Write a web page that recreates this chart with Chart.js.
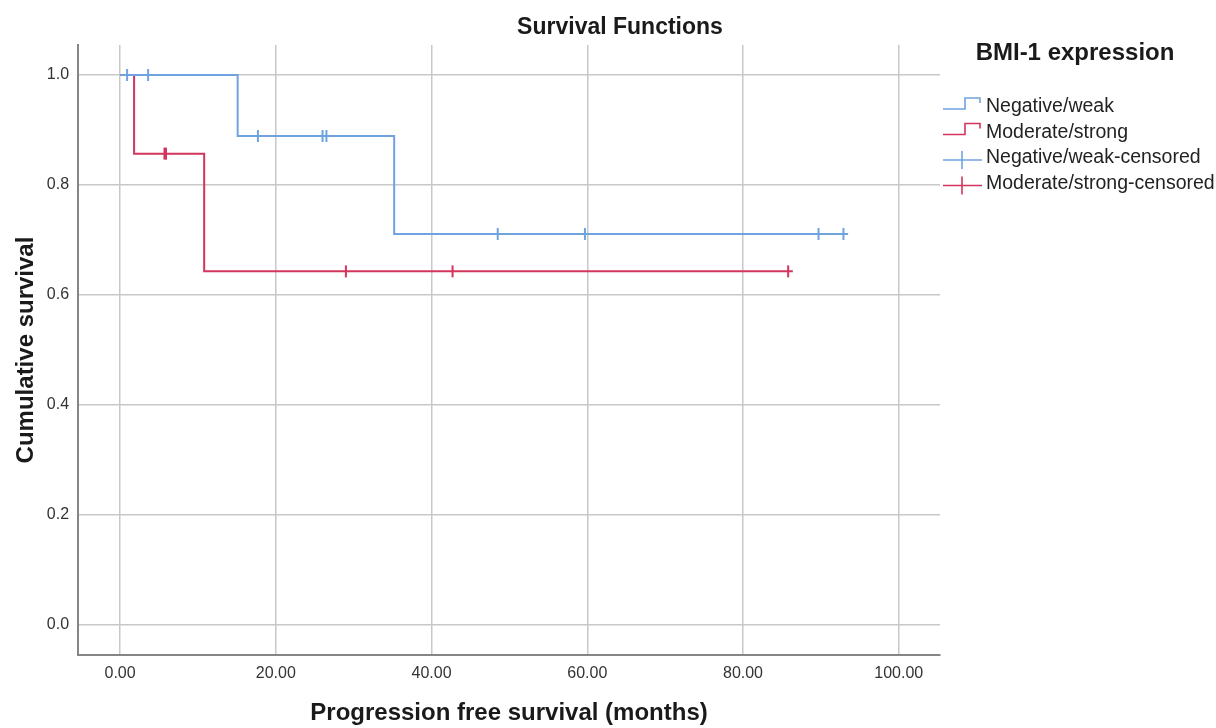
<!DOCTYPE html>
<html>
<head>
<meta charset="utf-8">
<title>Survival Functions</title>
<script src="https://cdn.jsdelivr.net/npm/chart.js@4/dist/chart.umd.min.js"></script>
<style>
  html, body { margin: 0; padding: 0; background: #fff; }
  #wrap { width: 1216px; height: 728px; position: relative; }
</style>
</head>
<body>
<div id="wrap"><canvas id="chart"></canvas></div>
<script>
    // Kaplan-Meier steps
    const negTimes = [0, 15.1, 35.2, 93.5];
    const negSurv = [1.0, 0.889, 0.711, 0.711];
    const modTimes = [0, 1.8, 10.8, 86.4];
    const modSurv = [1.0, 0.857, 0.643, 0.643];

    // Censored cases
    const negCensTimes = [0.9, 3.6, 17.7, 26.0, 26.5, 48.5, 59.7, 89.7, 92.9];
    const negCensSurv = [1.0, 1.0, 0.889, 0.889, 0.889, 0.711, 0.711, 0.711, 0.711];
    const modCensTimes = [5.7, 5.9, 29.0, 42.7, 85.8];
    const modCensSurv = [0.857, 0.857, 0.643, 0.643, 0.643];

    const xTicks = [0, 20, 40, 60, 80, 100];
    const yTicks = [0, 0.2, 0.4, 0.6, 0.8, 1.0];
    const groupNames = ['Negative/weak', 'Moderate/strong'];

    const blue = '#6fa3e0';
    const red = '#d3345d';

    function toPoints(xs, ys) {
      return xs.map((x, i) => ({ x: x, y: ys[i] }));
    }

    // Draws chart title and the SPSS style legend on the right
    const sideLegend = {
      id: 'sideLegend',
      afterDraw(chart) {
        const ctx = chart.ctx;
        ctx.save();
        ctx.fillStyle = '#1a1a1a';
        ctx.textAlign = 'center';
        ctx.textBaseline = 'middle';
        ctx.font = 'bold 23px "Liberation Sans", Arial, sans-serif';
        ctx.fillText('Survival Functions', 620, 28);
        ctx.font = 'bold 24px "Liberation Sans", Arial, sans-serif';
        ctx.fillText('BMI-1 expression', 1075, 53);

        ctx.textAlign = 'left';
        ctx.font = '19.5px "Liberation Sans", Arial, sans-serif';
        ctx.lineWidth = 1.6;
        chart.data.datasets.forEach((ds, i) => {
          const c = 107 + i * 25.5;
          ctx.strokeStyle = ds.borderColor;
          ctx.beginPath();
          if (ds.showLine) {
            ctx.moveTo(943, c + 2);
            ctx.lineTo(965, c + 2);
            ctx.lineTo(965, c - 9);
            ctx.lineTo(980, c - 9);
            ctx.lineTo(980, c - 4);
          } else {
            ctx.moveTo(943, c + 2);
            ctx.lineTo(982, c + 2);
            ctx.moveTo(962, c - 7);
            ctx.lineTo(962, c + 11);
          }
          ctx.stroke();
          ctx.fillStyle = '#222';
          ctx.fillText(ds.label, 986, c);
        });
        ctx.restore();
      }
    };

    new Chart(document.getElementById('chart'), {
      type: 'scatter',
      data: {
        datasets: [{
          label: groupNames[0],
          data: toPoints(negTimes, negSurv),
          showLine: true,
          stepped: true,
          borderColor: blue,
          borderWidth: 2,
          pointRadius: 0
        }, {
          label: groupNames[1],
          data: toPoints(modTimes, modSurv),
          showLine: true,
          stepped: true,
          borderColor: red,
          borderWidth: 2,
          pointRadius: 0
        }, {
          label: groupNames[0] + '-censored',
          data: toPoints(negCensTimes, negCensSurv),
          showLine: false,
          borderColor: blue,
          borderWidth: 2,
          pointStyle: 'line',
          rotation: 90,
          pointRadius: 6
        }, {
          label: groupNames[1] + '-censored',
          data: toPoints(modCensTimes, modCensSurv),
          showLine: false,
          borderColor: red,
          borderWidth: 2,
          pointStyle: 'line',
          rotation: 90,
          pointRadius: 6
        }]
      },
      options: {
        responsive: true,
        maintainAspectRatio: false,
        animation: false,
        events: [],
        layout: { padding: { top: 45, right: 276, bottom: 0, left: 6 } },
        plugins: {
          legend: { display: false },
          title: { display: false },
          tooltip: { enabled: false }
        },
        scales: {
          x: {
            type: 'linear',
            min: -5.4,
            max: 105.3,
            afterBuildTicks: axis => { axis.ticks = xTicks.map(v => ({ value: v })); },
            grid: { color: '#c8c8c8', lineWidth: 1.5, drawTicks: false },
            border: { color: '#858585', width: 2 },
            ticks: {
              padding: 9,
              color: '#333',
              font: { family: '"Liberation Sans", Arial, sans-serif', size: 16 },
              callback: v => Number(v).toFixed(2)
            },
            title: {
              display: true,
              text: 'Progression free survival (months)',
              color: '#1a1a1a',
              font: { family: '"Liberation Sans", Arial, sans-serif', size: 24, weight: 'bold' },
              padding: { top: 7, bottom: 0 }
            }
          },
          y: {
            type: 'linear',
            min: -0.0545,
            max: 1.0545,
            afterBuildTicks: axis => { axis.ticks = yTicks.map(v => ({ value: v })); },
            grid: { color: '#c8c8c8', lineWidth: 1.5, drawTicks: false },
            border: { color: '#858585', width: 2 },
            ticks: {
              padding: 9,
              color: '#333',
              font: { family: '"Liberation Sans", Arial, sans-serif', size: 16 },
              callback: v => Number(v).toFixed(1)
            },
            title: {
              display: true,
              text: 'Cumulative survival',
              color: '#1a1a1a',
              font: { family: '"Liberation Sans", Arial, sans-serif', size: 24, weight: 'bold' },
              padding: { top: 6, bottom: -3 }
            }
          }
        }
      },
      plugins: [sideLegend]
    });
</script>
</body>
</html>
